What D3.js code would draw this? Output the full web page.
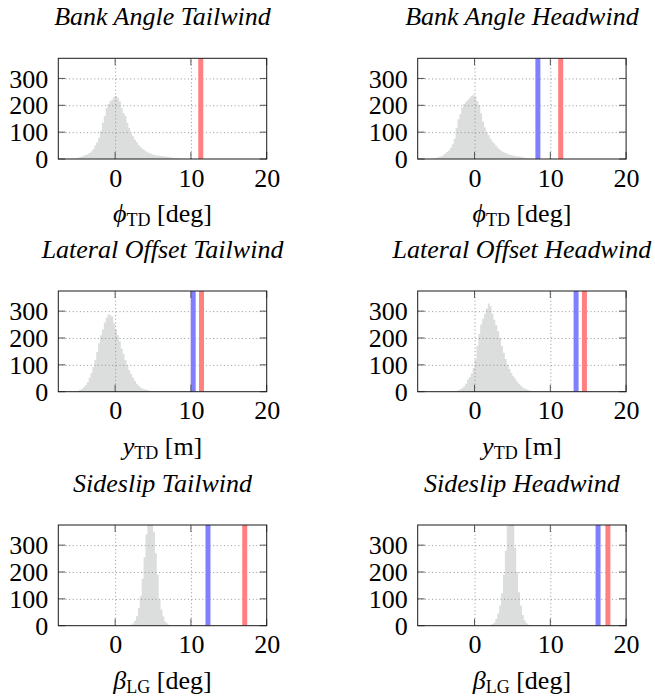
<!DOCTYPE html>
<html><head><meta charset="utf-8">
<script src="https://cdn.jsdelivr.net/npm/d3@7"></script>
<style>
body{margin:0;background:#fff}
text{font-family:"Liberation Serif","Times New Roman",serif;fill:#000}
</style>
</head><body>
<svg id="chart" width="655" height="700"></svg>
<script>
// ---------- data ----------
const titles = ["Bank Angle Tailwind","Bank Angle Headwind","Lateral Offset Tailwind","Lateral Offset Headwind","Sideslip Tailwind","Sideslip Headwind"];
const xSymbols = ["\u03D5","\u03D5","y","y","\u03B2","\u03B2"];
const xSubs = ["TD","TD","TD","TD","LG","LG"];
const xUnits = ["deg","deg","m","m","deg","deg"];
const xTicks = [0,10,20];
const yTicks = [0,100,200,300];
const xDomain = [-7.5,20];
const yDomain = [0,375];
const binWidth = 0.25;
const binStarts = [-6.5,-6.0,-5.5,-3.0,1.5,1.75];

const bankTailwind = [1,1,2,2,3,4,5,7,9,12,15,18,22,28,36,50,62,80,105,135,160,190,205,215,222,232,235,228,215,190,170,160,135,115,95,85,72,62,52,45,38,33,28,24,21,18,16,14,13,12,11,10,9,8,7,6,5,4,4,3,3,2,2,1,1,1];
const bankHeadwind = [1,2,3,4,6,8,10,14,20,26,32,42,55,75,115,148,168,192,205,213,220,228,235,240,232,215,200,170,140,118,98,88,75,65,58,48,40,34,29,25,22,19,17,15,13,11,10,9,8,6,5,4,3,2,1];
const offsetTailwind = [1,2,4,7,11,17,25,36,52,70,92,118,148,180,210,232,258,275,288,285,280,255,232,210,188,160,140,118,98,80,65,52,40,30,22,16,12,9,7,5,3,2,1];
const offsetHeadwind = [1,2,3,5,8,13,20,30,45,55,68,88,120,170,215,250,272,290,310,328,318,290,268,248,225,200,170,145,122,100,85,70,58,48,38,30,23,17,12,9,6,4,2,1];
const sideslipTailwind = [1,2,4,8,18,35,65,110,175,255,340,410,440,420,350,270,190,95,60,34,16,8,4,2,1];
const sideslipHeadwind = [1,3,6,12,25,45,75,120,190,280,370,430,440,380,290,200,125,75,40,20,9,4,2,1];
const histCounts = [bankTailwind,bankHeadwind,offsetTailwind,offsetHeadwind,sideslipTailwind,sideslipHeadwind];

const redValues = [11.3,11.37,11.4,14.5,17.1,17.6];
const blueValues = [null,8.36,10.3,13.4,12.25,16.3];

// ---------- layout ----------
const colLeft = [58.3,417.7];
const rowTop = [58.3,291,525];
const pw = 208.4, ph = 100.7;
const FS = 26;

const svg = d3.select("#chart");

histCounts.forEach((counts,i)=>{
  const col = i%2, row = Math.floor(i/2);
  const g = svg.append("g").attr("transform",`translate(${colLeft[col]},${rowTop[row]})`);
  const x = d3.scaleLinear().domain(xDomain).range([0,pw]);
  const y = d3.scaleLinear().domain(yDomain).range([ph,0]);

  const cid = "clip"+i;
  g.append("clipPath").attr("id",cid).append("rect").attr("width",pw).attr("height",ph);
  const plot = g.append("g").attr("clip-path",`url(#${cid})`);

  // histogram (step area)
  const pts = counts.map((c,k)=>[binStarts[i]+k*binWidth,c]);
  pts.push([binStarts[i]+counts.length*binWidth,counts[counts.length-1]]);
  const area = d3.area().x(d=>x(d[0])).y0(y(0)).y1(d=>y(d[1])).curve(d3.curveStepAfter);
  plot.append("path").datum(pts).attr("d",area).attr("fill","#dcdedd");

  // grid
  const gx = plot.append("g").attr("transform",`translate(0,${ph})`)
    .call(d3.axisBottom(x).tickValues(xTicks.filter(v=>v>xDomain[0]&&v<xDomain[1])).tickSize(-ph).tickFormat(""));
  gx.select(".domain").remove();
  gx.selectAll("line").attr("stroke","#8a8a8a").attr("stroke-width",0.9).attr("stroke-dasharray","1,2.6");
  const gy = plot.append("g")
    .call(d3.axisLeft(y).tickValues(yTicks.filter(v=>v>0)).tickSize(-pw).tickFormat(""));
  gy.select(".domain").remove();
  gy.selectAll("line").attr("stroke","#8a8a8a").attr("stroke-width",0.9).attr("stroke-dasharray","1,2.6");

  // inward tick marks on all sides
  const tl = 7;
  xTicks.forEach(v=>{
    g.append("line").attr("x1",x(v)).attr("x2",x(v)).attr("y1",ph).attr("y2",ph-tl).attr("stroke","#444").attr("stroke-width",0.9);
    g.append("line").attr("x1",x(v)).attr("x2",x(v)).attr("y1",0).attr("y2",tl).attr("stroke","#444").attr("stroke-width",0.9);
  });
  yTicks.forEach(v=>{
    g.append("line").attr("x1",0).attr("x2",tl).attr("y1",y(v)).attr("y2",y(v)).attr("stroke","#444").attr("stroke-width",0.9);
    g.append("line").attr("x1",pw).attr("x2",pw-tl).attr("y1",y(v)).attr("y2",y(v)).attr("stroke","#444").attr("stroke-width",0.9);
  });

  // vertical reference lines
  if(blueValues[i]!==null){
    plot.append("line").attr("x1",x(blueValues[i])).attr("x2",x(blueValues[i])).attr("y1",0).attr("y2",ph)
      .attr("stroke","#8080ff").attr("stroke-width",5);
  }
  plot.append("line").attr("x1",x(redValues[i])).attr("x2",x(redValues[i])).attr("y1",0).attr("y2",ph)
    .attr("stroke","#ff8080").attr("stroke-width",5);

  // frame
  g.append("rect").attr("width",pw).attr("height",ph).attr("fill","none").attr("stroke","#1a1a1a").attr("stroke-width",1);

  // tick labels via axes
  const ax = g.append("g").attr("transform",`translate(0,${ph})`)
    .call(d3.axisBottom(x).tickValues(xTicks).tickSize(0).tickFormat(d3.format("d")));
  ax.select(".domain").remove();
  ax.selectAll("text").attr("y",27.5).attr("dy",0).attr("font-size",FS).attr("font-family","Liberation Serif");
  const ay = g.append("g")
    .call(d3.axisLeft(y).tickValues(yTicks).tickSize(0).tickFormat(d3.format("d")));
  ay.select(".domain").remove();
  ay.selectAll("text").attr("x",-10).attr("dy","0.33em").attr("font-size",FS).attr("font-family","Liberation Serif");

  // title
  g.append("text").attr("x",pw/2).attr("y",-33.3).attr("text-anchor","middle")
    .attr("font-size",FS).attr("font-style","italic").text(titles[i]);

  // x label
  const lab = g.append("text").attr("x",pw/2).attr("y",ph+63).attr("text-anchor","middle").attr("font-size",FS);
  lab.append("tspan").attr("font-style","italic").text(xSymbols[i]);
  lab.append("tspan").attr("font-size",18).attr("dy",4).text(xSubs[i]);
  lab.append("tspan").attr("dy",-4).text(" ["+xUnits[i]+"]");
});
</script>
</body></html>
